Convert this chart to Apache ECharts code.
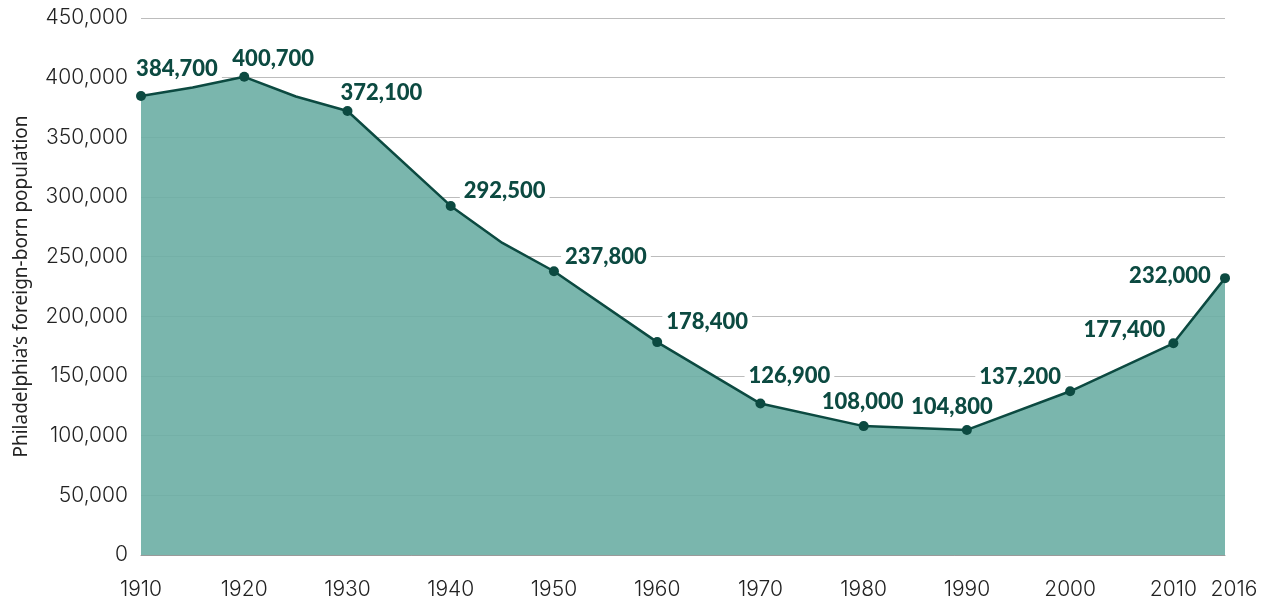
<!DOCTYPE html>
<html>
<head>
<meta charset="utf-8">
<script src="https://cdn.jsdelivr.net/npm/echarts@6/dist/echarts.min.js"></script>
<style>
  html, body { margin: 0; padding: 0; background: #fff; }
  #chart { width: 1270px; height: 602px; }
</style>
</head>
<body>
<div id="chart"></div>
<script>
// 5-year steps; the last census point is 2016
const years = ['1910', '1915', '1920', '1925', '1930', '1935', '1940', '1945', '1950', '1955', '1960',
  '1965', '1970', '1975', '1980', '1985', '1990', '1995', '2000', '2005', '2010', '2016']
// null = no reading, line just connects through
const population = [384700, 391800, 400700, 384200, 372100, null, 292500, 261500, 237800, null, 178400,
  null, 126900, null, 108000, null, 104800, null, 137200, null, 177400, 232000]
const labelledYears = ['1910', '1920', '1930', '1940', '1950', '1960', '1970', '1980', '1990', '2000', '2010', '2016']
const yTicks = [0, 50000, 100000, 150000, 200000, 250000, 300000, 350000, 400000, 450000]

// label centre offset from the dot, px
const labelOffset = {
  '1910': [36, -27], '1920': [29, -18], '1930': [34, -18], '1940': [54, -15],
  '1950': [52, -14], '1960': [50, -20], '1970': [29, -28], '1980': [-1, -24],
  '1990': [-15, -23], '2000': [-50, -14], '2010': [-49, -13], '2016': [-55, -2],
}

const INK = '#0c4a41'
const AXIS_TEXT = '#222'
const fmt = (v) => v.toLocaleString('en-US')

const seriesData = years.map((y, i) => {
  if (!labelledYears.includes(y)) return { value: population[i], symbol: 'none' }
  return {
    value: population[i],
    symbol: 'circle',
    symbolSize: 10,
    label: { show: true, position: 'inside', formatter: (p) => fmt(p.value) },
  }
})

const chart = echarts.init(document.getElementById('chart'))
chart.setOption({
  animation: false,
  grid: { left: 141, right: 45, top: 18, bottom: 47 },
  xAxis: {
    type: 'category',
    data: years,
    boundaryGap: false,
    axisLine: { lineStyle: { color: '#9a9a9a', width: 1 } },
    axisTick: { show: false },
    axisLabel: {
      interval: (i) => i % 2 === 0 || i === years.length - 1,
      color: AXIS_TEXT,
      fontFamily: 'Inter',
      fontWeight: 300,
      fontSize: 21,
      margin: 24,
      formatter: (v, i) => (i === years.length - 1 ? '{last|' + v + '}' : v),
      rich: { last: { fontFamily: 'Inter', fontWeight: 300, fontSize: 21, color: AXIS_TEXT, padding: [0, 0, 0, 18] } },
    },
  },
  yAxis: {
    type: 'value',
    min: yTicks[0],
    max: yTicks[yTicks.length - 1],
    interval: yTicks[1] - yTicks[0],
    name: 'Philadelphia\u2019s foreign-born population',
    nameLocation: 'middle',
    nameGap: 110,
    nameTextStyle: { fontFamily: 'Noto Sans', fontSize: 19, color: AXIS_TEXT },
    axisLine: { show: false },
    axisTick: { show: false },
    splitLine: { lineStyle: { color: '#bcbcbc', width: 1 } },
    axisLabel: {
      color: AXIS_TEXT,
      fontFamily: 'Inter',
      fontWeight: 300,
      fontSize: 21,
      margin: 13,
      formatter: (v) => fmt(v),
    },
  },
  series: [{
    type: 'line',
    data: seriesData,
    connectNulls: true,
    symbol: 'circle',
    symbolSize: 10,
    showSymbol: true,
    showAllSymbol: true,
    lineStyle: { color: INK, width: 2.5 },
    itemStyle: { color: INK },
    areaStyle: { color: '#6baea4', opacity: 0.9 },
    label: {
      color: INK,
      fontFamily: 'Lato',
      fontWeight: 900,
      fontSize: 22,
      lineHeight: 20,
      backgroundColor: '#fff',
      padding: [0, 4],
    },
    labelLayout: (p) => {
      const off = labelOffset[years[p.dataIndex]] || [0, 0]
      return { dx: off[0], dy: off[1], hideOverlap: false }
    },
    emphasis: { disabled: true },
  }],
})
</script>
</body>
</html>
